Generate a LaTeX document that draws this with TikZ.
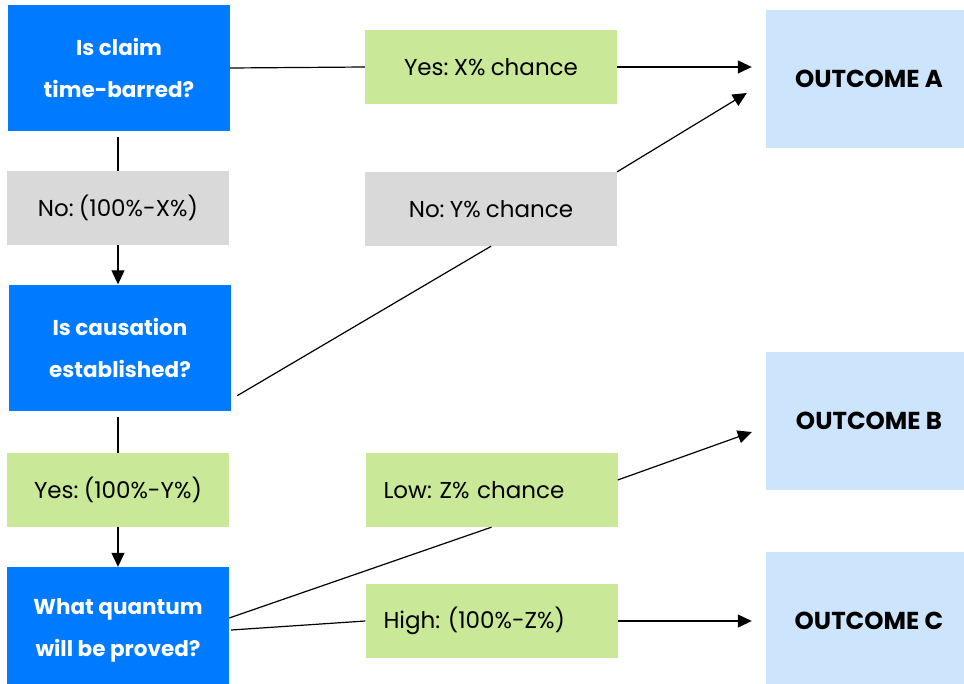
\documentclass[tikz,border=0pt]{standalone}
\usepackage{fontspec}
\setmainfont{Poppins}[WordSpace=0.85,BoldFeatures={WordSpace=1}]
\usetikzlibrary{arrows.meta}
\definecolor{qblue}{HTML}{007BFF}
\definecolor{nogrey}{HTML}{D9D9D9}
\definecolor{yesgreen}{HTML}{C9E898}
\definecolor{outblue}{HTML}{CCE4FC}
\tikzset{
  qbox/.style={fill=qblue,text=white,inner sep=0pt,minimum width=222pt,minimum height=126pt,
    align=center,font=\fontsize{21.5}{42}\selectfont\bfseries},
  ansbox/.style={inner sep=0pt,minimum width=222pt,minimum height=74pt,
    font=\fontsize{23}{26}\selectfont\frenchspacing},
  midbox/.style={ansbox,minimum width=252pt},
  leftbox/.style={midbox,text width=216pt,inner xsep=18pt,align=left},
  outbox/.style={fill=outblue,inner sep=0pt,minimum width=206pt,minimum height=138pt,
    font=\fontsize{24.5}{28}\selectfont\bfseries},
  link/.style={line width=1.2pt},
  arr/.style={link,-{Triangle[length=14pt,width=13pt]}}
}
\begin{document}
\begin{tikzpicture}[x=1pt,y=-1pt]
  \clip (0,0) rectangle (964,683);
  \node[qbox] at (119,68) (q1) {Is claim\\time-barred?};
  \node[qbox] at (120,347.5) (q2) {Is causation\\established?};
  \node[qbox] at (118,630) (q3) {What quantum\\will be proved?};
  \node[ansbox,fill=nogrey] at (118,208) (noX) {No: (100\%-X\%)};
  \node[ansbox,fill=yesgreen] at (118,490) (yesY) {Yes: (100\%-Y\%)};
  \node[midbox,fill=yesgreen] at (491,67) (yesX) {Yes: X\% chance};
  \node[midbox,fill=nogrey] at (491,209) (noY) {No: Y\% chance};
  \node[leftbox,fill=yesgreen] at (491.5,490) (low) {Low: Z\% chance};
  \node[leftbox,fill=yesgreen] at (491.5,621) (high) {High: (100\%-Z\%)};
  \node[outbox] at (869,79) (outA) {OUTCOME A};
  \node[outbox] at (869,421) (outB) {OUTCOME B};
  \node[outbox] at (869,621) (outC) {OUTCOME C};
  \coordinate (endA) at ([xshift=-14pt]outA.west |- yesX.east);
  \coordinate (endA2) at ([xshift=-19pt,yshift=-14pt]outA.west);
  \coordinate (endB) at ([xshift=-14pt,yshift=-11pt]outB.west);
  \coordinate (endC) at ([xshift=-14pt]outC.west);
  \draw[link] (q1.east) -- (yesX.west);
  \draw[arr] (yesX.east) -- (endA);
  \draw[link] ([yshift=-6pt]q1.south -| noX.north) -- (noX.north);
  \draw[arr] (noX.south) -- (noX.south |- q2.north);
  \draw[link] ([xshift=6pt,yshift=15pt]q2.south east) -- (noY.south);
  \draw[arr] (noY.north east) -- (endA2);
  \draw[link] ([yshift=-6pt]q2.south -| yesY.north) -- (yesY.north);
  \draw[arr] (yesY.south) -- (yesY.south |- q3.north);
  \draw[link] ([yshift=12pt]q3.east) -- (low.south);
  \draw[arr] ([yshift=10pt]low.east) -- (endB);
  \draw[link] ([xshift=2pt]q3.east) -- (high.west);
  \draw[arr] (high.east) -- (endC);
\end{tikzpicture}
\end{document}
